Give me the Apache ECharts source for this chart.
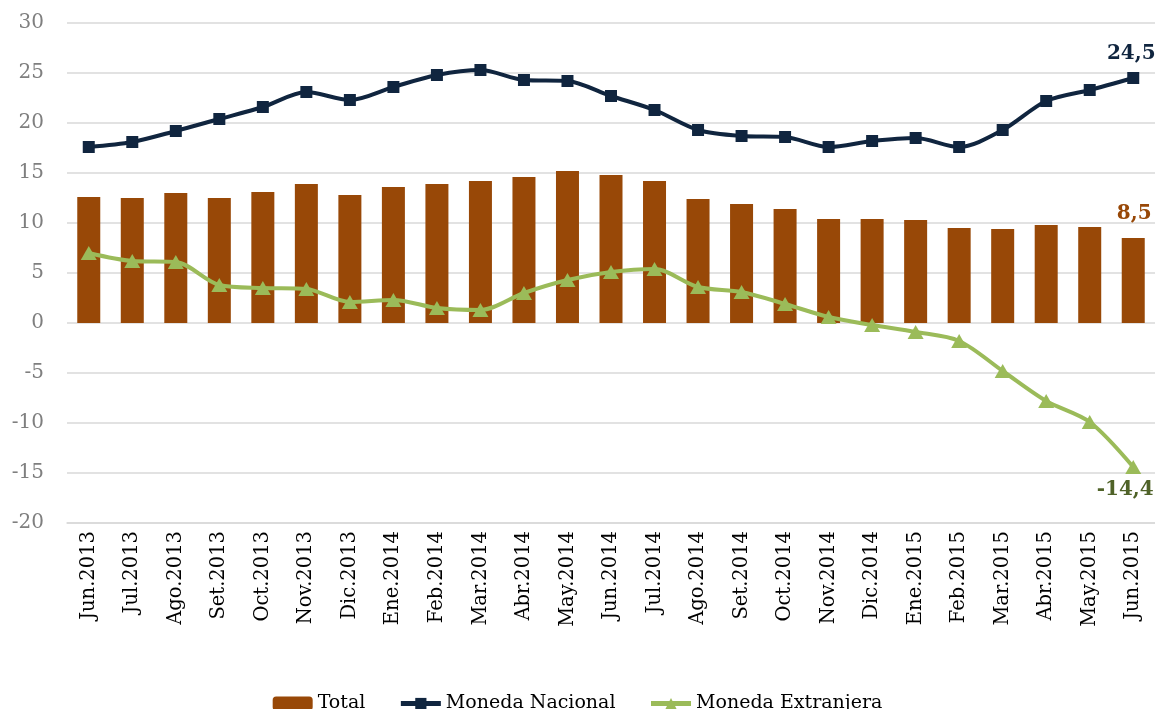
<!DOCTYPE html>
<html><head><meta charset="utf-8">
<script src="https://cdn.jsdelivr.net/npm/echarts@6/dist/echarts.min.js"></script>
<style>html,body{margin:0;padding:0;background:#fff}#c{width:1155px;height:709px}</style>
</head><body><div id="c"></div>
<script>
const categories = ['Jun.2013','Jul.2013','Ago.2013','Set.2013','Oct.2013','Nov.2013','Dic.2013','Ene.2014','Feb.2014','Mar.2014','Abr.2014','May.2014','Jun.2014','Jul.2014','Ago.2014','Set.2014','Oct.2014','Nov.2014','Dic.2014','Ene.2015','Feb.2015','Mar.2015','Abr.2015','May.2015','Jun.2015'];
const total = [12.6,12.5,13.0,12.5,13.1,13.9,12.8,13.6,13.9,14.2,14.6,15.2,14.8,14.2,12.4,11.9,11.4,10.4,10.4,10.3,9.5,9.4,9.8,9.6,8.5];
const nacional = [17.6,18.1,19.2,20.4,21.6,23.1,22.3,23.6,24.8,25.3,24.3,24.2,22.7,21.3,19.3,18.7,18.6,17.6,18.2,18.5,17.6,19.3,22.2,23.3,24.5];
const extranjera = [7.0,6.2,6.1,3.8,3.5,3.4,2.1,2.3,1.5,1.3,3.0,4.3,5.1,5.4,3.6,3.1,1.9,0.6,-0.2,-0.9,-1.8,-4.8,-7.8,-9.9,-14.4];
const yMin = -20, yMax = 30, yStep = 5;

const SERIF = '"DejaVu Serif", "Liberation Serif", serif';
const lastOnly = p => p.dataIndex === categories.length - 1 ? String(p.value).replace('.', ',') : '';

const chart = echarts.init(document.getElementById('c'), null, {renderer: 'canvas'});
chart.setOption({
  animation: false,
  backgroundColor: '#ffffff',
  grid: {left: 67, top: 23, width: 1095, bottom: 186, containLabel: false},
  legend: {
    top: 689, left: 'center', itemWidth: 40, itemHeight: 14, itemGap: 33,
    textStyle: {fontFamily: SERIF, fontSize: 19, color: '#000'},
    data: [
      {name: 'Total'},
      {name: 'Moneda Nacional', lineStyle: {width: 5}},
      {name: 'Moneda Extranjera', lineStyle: {width: 5}}
    ]
  },
  xAxis: {
    type: 'category', data: categories,
    axisLine: {show: true, onZero: false, lineStyle: {color: '#d9d9d9', width: 1.5}},
    axisTick: {show: false},
    axisLabel: {interval: 0, rotate: 90, margin: 8, fontFamily: SERIF, fontSize: 19.5, color: '#000'}
  },
  yAxis: {
    type: 'value', min: yMin, max: yMax, interval: yStep,
    axisLine: {show: false}, axisTick: {show: false},
    splitLine: {lineStyle: {color: '#d9d9d9', width: 1.5}},
    axisLabel: {margin: 23, fontFamily: SERIF, fontSize: 20, color: '#7f7f7f'}
  },
  series: [
    {
      name: 'Total', type: 'bar', data: total, barWidth: 23,
      itemStyle: {color: '#984807'},
      label: {show: true, position: 'top', distance: 14, formatter: lastOnly,
        fontFamily: SERIF, fontWeight: 'bold', fontSize: 20, color: '#984807', offset: [1, 0]}
    },
    {
      name: 'Moneda Nacional', type: 'line', data: nacional, smooth: 0.3,
      symbol: 'rect', symbolSize: 12,
      lineStyle: {color: '#10253f', width: 4}, itemStyle: {color: '#10253f'},
      label: {show: true, position: 'top', distance: 8, formatter: lastOnly,
        fontFamily: SERIF, fontWeight: 'bold', fontSize: 20, color: '#10253f', offset: [-2, 0]}
    },
    {
      name: 'Moneda Extranjera', type: 'line', data: extranjera, smooth: 0.3,
      symbol: 'triangle', symbolSize: [16, 14],
      lineStyle: {color: '#9bbb59', width: 4}, itemStyle: {color: '#9bbb59'},
      label: {show: true, position: 'bottom', distance: 6, formatter: lastOnly,
        fontFamily: SERIF, fontWeight: 'bold', fontSize: 20, color: '#4f6228', offset: [-8, 0]}
    }
  ]
});
</script></body></html>
